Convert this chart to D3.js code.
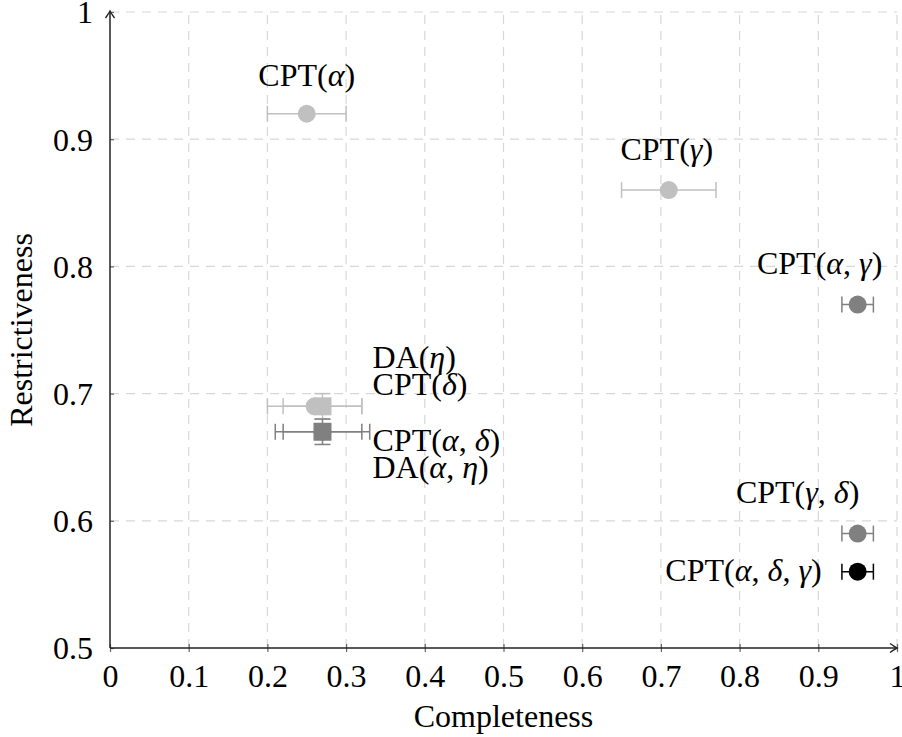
<!DOCTYPE html>
<html>
<head>
<meta charset="utf-8">
<script src="https://cdn.jsdelivr.net/npm/d3@7"></script>
<style>
  body { margin: 0; background: #fff; }
  svg { display: block; }
  text { font-family: "Liberation Serif", "Times New Roman", serif; fill: #000; }
</style>
</head>
<body>
<div id="chart"></div>
<script>
// ── Data ────────────────────────────────────────────────────────────────────
const names      = ['CPT(α)', 'CPT(γ)', 'CPT(α,γ)', 'CPT(γ,δ)', 'CPT(α,δ,γ)', 'CPT(δ)', 'DA(η)', 'CPT(α,δ)', 'DA(α,η)'];
const completeness = [0.25, 0.71, 0.95, 0.95, 0.95, 0.26, 0.27, 0.27, 0.27];
const restrictive  = [0.92, 0.86, 0.77, 0.59, 0.56, 0.69, 0.69, 0.67, 0.67];
const complErr     = [0.05, 0.06, 0.02, 0.02, 0.02, 0.06, 0.05, 0.06, 0.05];
const restrErr     = [0,    0,    0,    0,    0,    0,    0.01, 0,    0.01];
const shades       = ['light', 'light', 'mid', 'mid', 'black', 'light', 'light', 'mid', 'mid'];
const shapes       = ['circle', 'circle', 'circle', 'circle', 'circle', 'circle', 'square', 'circle', 'square'];

const xTicks = [0, 0.1, 0.2, 0.3, 0.4, 0.5, 0.6, 0.7, 0.8, 0.9, 1];
const yTicks = [0.5, 0.6, 0.7, 0.8, 0.9, 1];
const xTickLabels = ['0', '0.1', '0.2', '0.3', '0.4', '0.5', '0.6', '0.7', '0.8', '0.9', '1'];
const yTickLabels = ['0.5', '0.6', '0.7', '0.8', '0.9', '1'];

// label placement relative to the point (layout only)
const LABEL_POS = [
  { dx: 0,   dy: -28, anchor: 'middle' },
  { dx: -2,  dy: -30, anchor: 'middle' },
  { dx: -38, dy: -31, anchor: 'middle' },
  { dx: -60, dy: -31, anchor: 'middle' },
  { dx: -36, dy: 9,   anchor: 'end' },
  { dx: 58,  dy: -11, anchor: 'start' },
  { dx: 50,  dy: -38, anchor: 'start' },
  { dx: 50,  dy: 19,  anchor: 'start' },
  { dx: 50,  dy: 46,  anchor: 'start' },
];

const COLORS = { light: '#c0c0c0', mid: '#808080', black: '#000000' };

// ── Layout ──────────────────────────────────────────────────────────────────
const W = 902, H = 737;
const margin = { left: 110, right: 5, top: 12, bottom: 89 };
const FONT = 32;

const svg = d3.select('#chart').append('svg')
  .attr('width', W).attr('height', H);

const x = d3.scaleLinear().domain([0, 1]).range([margin.left, W - margin.right]);
const y = d3.scaleLinear().domain([0.5, 1]).range([H - margin.bottom, margin.top]);

// ── Grid ────────────────────────────────────────────────────────────────────
const grid = svg.append('g').attr('class', 'grid')
  .attr('stroke', '#d8d8d8').attr('stroke-width', 1.2).attr('stroke-dasharray', '9,7');

grid.selectAll('line.v').data(xTicks.slice(1)).join('line')
  .attr('x1', d => x(d)).attr('x2', d => x(d))
  .attr('y1', y(0.5)).attr('y2', y(1));

grid.selectAll('line.h').data(yTicks.slice(1)).join('line')
  .attr('x1', x(0)).attr('x2', x(1))
  .attr('y1', d => y(d)).attr('y2', d => y(d));

// ── Axes ────────────────────────────────────────────────────────────────────
const xAxis = d3.axisBottom(x).tickValues(xTicks).tickFormat((d, i) => xTickLabels[i])
  .tickSizeInner(4).tickSizeOuter(0).tickPadding(12);
const yAxis = d3.axisLeft(y).tickValues(yTicks).tickFormat((d, i) => yTickLabels[i])
  .tickSizeInner(5).tickSizeOuter(0).tickPadding(12);

const gx = svg.append('g').attr('transform', `translate(0,${y(0.5)})`).call(xAxis);
const gy = svg.append('g').attr('transform', `translate(${x(0)},0)`).call(yAxis);

for (const g of [gx, gy]) {
  g.select('.domain').remove();
  g.selectAll('.tick line').attr('stroke', '#666').attr('stroke-width', 1.2);
  g.selectAll('.tick text')
    .style('font-family', '"Liberation Serif", serif')
    .style('font-size', FONT + 'px').attr('fill', '#000');
}
gx.selectAll('.tick line').attr('y1', -4);
gy.selectAll('.tick line').attr('x2', 4);
gy.selectAll('.tick text').attr('dy', '0.34em');

// axis lines with arrows
const axisColor = '#222';
svg.append('line')
  .attr('x1', x(0)).attr('x2', x(1))
  .attr('y1', y(0.5)).attr('y2', y(0.5))
  .attr('stroke', axisColor).attr('stroke-width', 1.5);
svg.append('line')
  .attr('x1', x(0)).attr('x2', x(0))
  .attr('y1', y(0.5)).attr('y2', y(1))
  .attr('stroke', axisColor).attr('stroke-width', 1.5);

const arrow = (px, py, rot) => svg.append('path')
  .attr('d', 'M-7,-4.5 Q-2,-1 0,0 Q-2,1 -7,4.5')
  .attr('transform', `translate(${px},${py}) rotate(${rot})`)
  .attr('fill', 'none').attr('stroke', axisColor).attr('stroke-width', 1.4);
arrow(x(1), y(0.5), 0);
arrow(x(0), y(1) - 1, -90);

// axis titles
svg.append('text')
  .attr('x', (x(0) + x(1)) / 2).attr('y', 727)
  .attr('text-anchor', 'middle')
  .style('font-size', FONT + 'px')
  .text('Completeness');

svg.append('text')
  .attr('transform', `translate(32,${(y(0.5) + y(1)) / 2}) rotate(-90)`)
  .attr('text-anchor', 'middle')
  .style('font-size', FONT + 'px')
  .text('Restrictiveness');

// ── Points + error bars ─────────────────────────────────────────────────────
const points = names.map((n, i) => ({
  name: n, cx: completeness[i], cy: restrictive[i],
  ex: complErr[i], ey: restrErr[i],
  color: COLORS[shades[i]], shape: shapes[i], lab: LABEL_POS[i],
}));

const CAP = 8;
const R = 9;

const pg = svg.append('g').attr('class', 'points');
const item = pg.selectAll('g').data(points).join('g');

// horizontal error bar
item.append('line')
  .attr('x1', d => x(d.cx - d.ex)).attr('x2', d => x(d.cx + d.ex))
  .attr('y1', d => y(d.cy)).attr('y2', d => y(d.cy))
  .attr('stroke', d => d.color).attr('stroke-width', 1.5);
for (const s of [-1, 1]) {
  item.append('line')
    .attr('x1', d => x(d.cx + s * d.ex)).attr('x2', d => x(d.cx + s * d.ex))
    .attr('y1', d => y(d.cy) - CAP).attr('y2', d => y(d.cy) + CAP)
    .attr('stroke', d => d.color).attr('stroke-width', 1.5);
}

// vertical error bar
const vItem = item.filter(d => d.ey > 0);
vItem.append('line')
  .attr('x1', d => x(d.cx)).attr('x2', d => x(d.cx))
  .attr('y1', d => y(d.cy - d.ey)).attr('y2', d => y(d.cy + d.ey))
  .attr('stroke', d => d.color).attr('stroke-width', 1.5);
for (const s of [-1, 1]) {
  vItem.append('line')
    .attr('x1', d => x(d.cx) - CAP).attr('x2', d => x(d.cx) + CAP)
    .attr('y1', d => y(d.cy + s * d.ey)).attr('y2', d => y(d.cy + s * d.ey))
    .attr('stroke', d => d.color).attr('stroke-width', 1.5);
}

// markers
item.filter(d => d.shape === 'circle').append('circle')
  .attr('cx', d => x(d.cx)).attr('cy', d => y(d.cy)).attr('r', R)
  .attr('fill', d => d.color);
item.filter(d => d.shape === 'square').append('rect')
  .attr('x', d => x(d.cx) - R).attr('y', d => y(d.cy) - R)
  .attr('width', 2 * R).attr('height', 2 * R)
  .attr('fill', d => d.color);

// labels, greek letters in italics
const lab = svg.append('g').attr('class', 'labels').selectAll('text').data(points).join('text')
  .attr('x', d => x(d.cx) + d.lab.dx)
  .attr('y', d => y(d.cy) + d.lab.dy)
  .attr('text-anchor', d => d.lab.anchor)
  .style('font-size', FONT + 'px');

lab.each(function (d) {
  const t = d3.select(this);
  const runs = d.name.replace(/,/g, ', ').match(/[α-ω]+|[^α-ω]+/g);
  for (const run of runs) {
    t.append('tspan')
      .style('font-style', /[α-ω]/.test(run) ? 'italic' : 'normal')
      .text(run);
  }
});
</script>
</body>
</html>
